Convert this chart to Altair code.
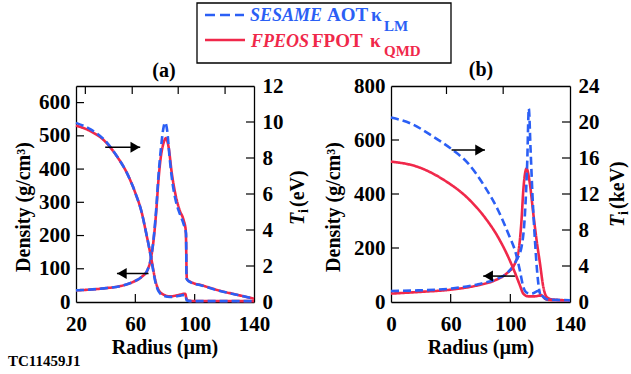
import altair as alt
import pandas as pd

# ---------------- data ----------------
# Panel (a): radius in um, density in g/cm3, Ti in eV
a_dens_fp_r = [20, 38.6, 49.8, 58.8, 64.4, 68.2, 70.7, 72.3, 74, 75.6, 77.2, 79, 80.6, 82.4, 84.6, 86.9, 89.8, 92.5, 94.0, 94.7, 95.8, 105.9, 117.1, 128.3, 140]
a_dens_fp = [35, 41, 48, 61, 76, 96, 136, 186, 267, 367, 437, 478, 493, 467, 387, 327, 277, 247, 215, 72, 64, 49, 34, 22, 10]
a_dens_se_r = [20, 38.6, 49.8, 58.8, 64.4, 68.2, 70.7, 72.3, 74, 75.6, 77.2, 78.8, 80.1, 81.5, 83, 85, 87.5, 90, 92.5, 94.2, 94.5, 95.8, 105.9, 117.1, 128.3, 140]
a_dens_se = [35, 41, 48, 61, 76, 96, 136, 190, 275, 380, 460, 520, 540, 515, 440, 360, 300, 265, 235, 205, 70, 63, 48, 33, 22, 10]
a_ti_r = [20, 29.6, 38.6, 47.6, 54.3, 60, 64.4, 67.3, 69.6, 71.1, 73.4, 75.6, 79, 83.5, 90.2, 93.6, 94.7, 97, 140]
a_ti_fp = [9.8, 9.5, 9.0, 8.09, 7.17, 6.06, 4.94, 3.83, 2.9, 2.26, 1.24, 0.68, 0.41, 0.31, 0.41, 0.46, 0.13, 0.06, 0.05]
a_ti_se = [9.95, 9.6, 9.05, 8.1, 7.17, 6.06, 4.94, 3.83, 2.9, 2.2, 1.15, 0.6, 0.35, 0.28, 0.35, 0.4, 0.08, 0.05, 0.05]

# Panel (b): radius in um (as labelled), density in g/cm3, Ti in keV
b_dens_fp_r = [0, 27.2, 60.5, 78.4, 89.6, 97.4, 103, 105.9, 107.5, 108.7, 110.9, 113.1, 115.4, 117.6, 119.9, 122.1, 124.3, 127.7, 140]
b_dens_fp = [31, 37, 46, 62, 80, 105, 142, 204, 303, 414, 494, 438, 327, 229, 142, 56, 19, 10, 6]
b_dens_se_r = [0, 27.2, 60.5, 78.4, 89.6, 98.6, 104, 107.5, 109.8, 111.3, 112.4, 113.5, 114.9, 116.5, 118.1, 119.4, 121, 125.4, 140]
b_dens_se = [41, 43, 50, 66, 83, 111, 154, 204, 327, 513, 716, 574, 389, 229, 105, 43, 19, 9, 6]
b_ti_se_r = [0, 20.6, 40.7, 60.5, 71.7, 82.9, 91.8, 98.6, 103.7, 106.4, 108.7, 110.9, 114.3, 118.7, 122.1, 125.4, 140]
b_ti_se = [20.5, 19.8, 18.5, 17.0, 15.4, 12.8, 10.2, 7.6, 5.4, 3.5, 1.67, 1.04, 0.93, 1.22, 0.56, 0.26, 0.2]
b_ti_fp_r = [0, 27.2, 54, 71.7, 82.9, 91.8, 98.6, 103, 106.4, 108.7, 112, 116.5, 121, 123.2, 127.7, 140]
b_ti_fp = [15.6, 15.0, 13.5, 11.5, 9.4, 7.2, 5.0, 3.3, 1.86, 0.93, 0.63, 0.63, 0.74, 0.37, 0.2, 0.2]

# arrows: (start radius, tip radius, level)
a_arrow_ti = (39.7, 63.3, 8.6)
a_arrow_dens = (68.9, 47.6, 86)
b_arrow_ti = (60.6, 83.0, 16.9)
b_arrow_dens = (103.1, 81.8, 96)

# axis ticks
a_x_labels = [20, 60, 100, 140]
a_x_top = [26.3, 57.9, 88.9, 120.5]
a_d_labels = [0, 100, 200, 300, 400, 500, 600]
a_t_labels = [0, 2, 4, 6, 8, 10, 12]
b_x_labels = [0, 60, 100, 140]
b_x_top = [55.8, 95.2]
b_d_labels = [0, 200, 400, 600, 800]
b_t_labels = [0, 4, 8, 12, 16, 20, 24]

# ---------------- layout / style ----------------
FONT = "Liberation Serif"
BLUE = "#2b5ff5"
RED = "#f0284a"
OX, OY = 76, 86          # plot-area origin on the page
W, H = 494, 216          # plot-area size (both panels)
PA = [0, 178]            # pixel range of panel (a)
PB = [315, 494]          # pixel range of panel (b)
TK = 8                   # inward tick length
LW = 2.6
DASH = [8, 4]


def df(**cols):
    return pd.DataFrame(cols)


def axis(orient, values=None, labels=True, offset=0, pad=6):
    kw = dict(orient=orient, title=None, ticks=False, grid=False, domain=True,
              domainColor="black", domainWidth=1.3, labels=labels,
              labelFont=FONT, labelFontSize=21, labelFontWeight="bold",
              labelColor="black", labelPadding=pad, labelFlush=False,
              labelOverlap=False, offset=offset)
    if values is not None:
        kw["values"] = values
    return alt.Axis(**kw)


def panel(xdom, xrange, ddom, tdom, xlab, xtop, dlab, tlab,
          dens, ti, arr_d, arr_t, left_off, right_off):
    sx = alt.Scale(domain=xdom, range=xrange, nice=False, zero=False)
    sd = alt.Scale(domain=ddom, nice=False, zero=False)
    st = alt.Scale(domain=tdom, nice=False, zero=False)
    x0, x1 = xrange[0], xrange[-1]
    ax_b = axis("bottom", xlab, pad=11)
    ax_t = axis("top", [], labels=False)
    ax_l = axis("left", dlab, offset=left_off, pad=6)
    ax_r = axis("right", tlab, offset=right_off, pad=8)

    X = lambda ax: alt.X("r:Q", scale=sx, axis=ax)
    YD = alt.Y("d:Q", scale=sd, axis=ax_l)
    YT = alt.Y("t:Q", scale=st, axis=ax_r)

    # density (left axis) layer
    dl = []
    for (r, d), col, dash in [(dens[0], RED, [1, 0]), (dens[1], BLUE, DASH)]:
        dl.append(alt.Chart(df(r=r, d=d)).mark_line(
            color=col, strokeWidth=LW, strokeDash=dash, interpolate="monotone"
        ).encode(x=X(ax_b), y=YD))
    inner_d = [v for v in dlab if ddom[0] < v < ddom[1]]
    dl.append(alt.Chart(df(d=inner_d)).mark_rule(color="black", strokeWidth=1.2).encode(
        y=YD, x=alt.value(x0), x2=alt.value(x0 + TK)))
    dl.append(alt.Chart(df(r=xlab[1:-1])).mark_rule(color="black", strokeWidth=1.2).encode(
        x=X(ax_b), y=alt.value(H), y2=alt.value(H - TK)))
    ad = df(r=[arr_d[0]], r2=[arr_d[1]], d=[arr_d[2]])
    dl.append(alt.Chart(ad).mark_rule(color="black", strokeWidth=1.5).encode(
        x=X(ax_b), x2="r2:Q", y=YD))
    dl.append(alt.Chart(ad).mark_point(shape="triangle-left", filled=True, color="black",
                                       opacity=1, size=120, xOffset=5).encode(
        x=alt.X("r2:Q", scale=sx, axis=ax_b), y=YD))
    dens_layer = alt.layer(*dl)

    # temperature (right axis) layer
    tl = []
    for (r, t), col, dash in [(ti[0], RED, [1, 0]), (ti[1], BLUE, DASH)]:
        tl.append(alt.Chart(df(r=r, t=t)).mark_line(
            color=col, strokeWidth=LW, strokeDash=dash, interpolate="monotone"
        ).encode(x=X(ax_t), y=YT))
    inner_t = [v for v in tlab if tdom[0] < v < tdom[1]]
    tl.append(alt.Chart(df(t=inner_t)).mark_rule(color="black", strokeWidth=1.2).encode(
        y=YT, x=alt.value(x1 - TK), x2=alt.value(x1)))
    tl.append(alt.Chart(df(r=xtop)).mark_rule(color="black", strokeWidth=1.2).encode(
        x=X(ax_t), y=alt.value(0), y2=alt.value(TK)))
    at = df(r=[arr_t[0]], r2=[arr_t[1]], t=[arr_t[2]])
    tl.append(alt.Chart(at).mark_rule(color="black", strokeWidth=1.5).encode(
        x=X(ax_t), x2="r2:Q", y=YT))
    tl.append(alt.Chart(at).mark_point(shape="triangle-right", filled=True, color="black",
                                       opacity=1, size=120, xOffset=-5).encode(
        x=alt.X("r2:Q", scale=sx, axis=ax_t), y=YT))
    ti_layer = alt.layer(*tl)

    return alt.layer(dens_layer, ti_layer).resolve_scale(x="independent", y="independent")


panel_a = panel([20, 140], PA, [0, 650], [0, 12], a_x_labels, a_x_top, a_d_labels, a_t_labels,
                [(a_dens_fp_r, a_dens_fp), (a_dens_se_r, a_dens_se)],
                [(a_ti_r, a_ti_fp), (a_ti_r, a_ti_se)],
                a_arrow_dens, a_arrow_ti, 0, -(W - PA[1]))

xb_range = [PB[0], PB[0] + (PB[1] - PB[0]) / 3, PB[0] + 2 * (PB[1] - PB[0]) / 3, PB[1]]
panel_b = panel([0, 60, 100, 140], xb_range, [0, 800], [0, 24], b_x_labels, b_x_top, b_d_labels, b_t_labels,
                [(b_dens_fp_r, b_dens_fp), (b_dens_se_r, b_dens_se)],
                [(b_ti_fp_r, b_ti_fp), (b_ti_se_r, b_ti_se)],
                b_arrow_dens, b_arrow_ti, -PB[0], 0)


# ---------------- annotations (page coordinates) ----------------
ONE = alt.Data(values=[{}])


def txt(s, x, y, size=20, color="black", style="normal", weight="bold",
        angle=0, align="left", baseline="alphabetic"):
    return alt.Chart(ONE).mark_text(
        text=s, font=FONT, fontSize=size, color=color, fontStyle=style,
        fontWeight=weight, angle=angle, align=align, baseline=baseline
    ).encode(x=alt.value(x - OX), y=alt.value(y - OY))


def hline(x1, x2, y, color, dash, width=2.6):
    return alt.Chart(ONE).mark_rule(color=color, strokeDash=dash, strokeWidth=width).encode(
        x=alt.value(x1 - OX), x2=alt.value(x2 - OX), y=alt.value(y - OY))


legend_box = alt.Chart(ONE).mark_rect(fill="white", stroke="black", strokeWidth=1.3).encode(
    x=alt.value(197 - OX), x2=alt.value(451 - OX), y=alt.value(3 - OY), y2=alt.value(63 - OY))

ann = [
    legend_box,
    hline(205, 244, 15, BLUE, [10, 5]),
    hline(205, 245, 40, RED, [1, 0]),
    txt("SESAME", 250, 21, size=18, color=BLUE, style="italic"),
    txt("AOT", 327, 21, size=19, color=BLUE),
    txt("κ", 371, 21, size=19, color=BLUE),
    txt("LM", 384, 31, size=15, color=BLUE),
    txt("FPEOS", 251, 47, size=18, color=RED, style="italic"),
    txt("FPOT", 312, 47, size=19, color=RED),
    txt("κ", 370, 47, size=19, color=RED),
    txt("QMD", 384, 56, size=15, color=RED),
    txt("(a)", 164, 71, align="center", baseline="middle"),
    txt("(b)", 481, 70, align="center", baseline="middle"),
    txt("Density (g/cm³)", 24, 207, angle=270, align="center", baseline="middle"),
    txt("Density (g/cm³)", 334, 207, angle=270, align="center", baseline="middle"),
    txt("T", 304, 225, style="italic", angle=270),
    txt("i", 308, 213, size=14, angle=270),
    txt("(eV)", 304, 207, angle=270),
    txt("T", 624, 227, style="italic", angle=270),
    txt("i", 628, 215, size=14, angle=270),
    txt("(keV)", 624, 209, angle=270),
    txt("Radius (µm)", 165, 348, align="center", baseline="middle"),
    txt("Radius (µm)", 481, 348, align="center", baseline="middle"),
    txt("TC11459J1", 8, 366, size=15),
]

chart = alt.layer(panel_a, panel_b, *ann).resolve_scale(
    x="independent", y="independent"
).properties(
    width=W, height=H, autosize="none",
    padding={"left": OX, "top": OY, "right": 631 - OX - W, "bottom": 374 - OY - H},
    background="white",
).configure_view(stroke=None)

chart.save("out.html", embed_options={"renderer": "svg", "actions": False})
